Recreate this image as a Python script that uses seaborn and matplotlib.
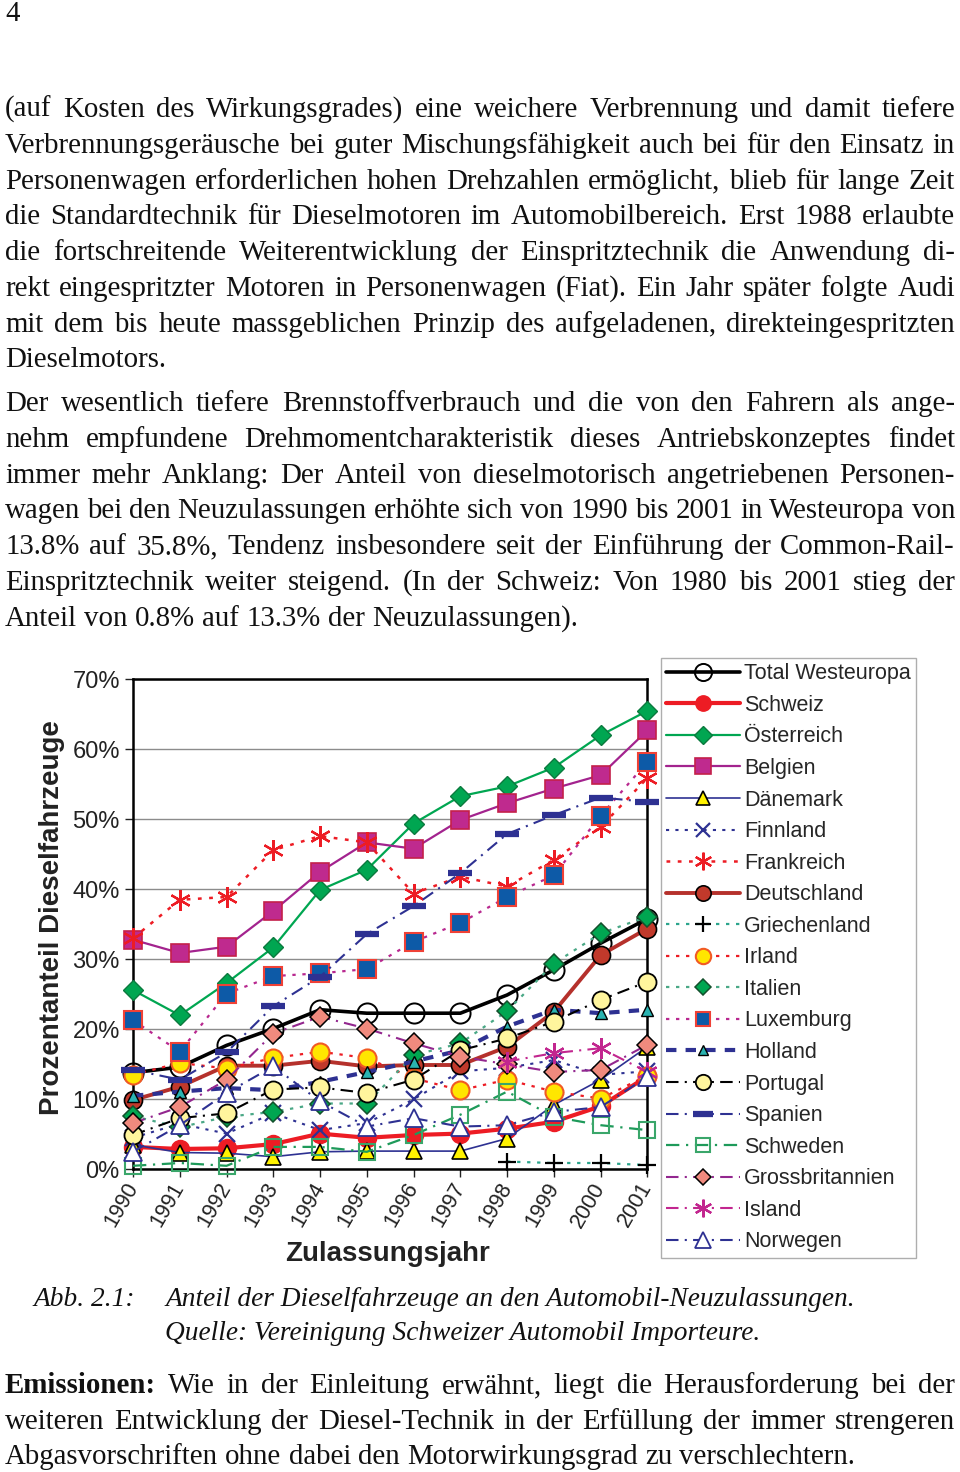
import matplotlib
matplotlib.use("Agg")
import matplotlib.pyplot as plt
import seaborn as sns
from matplotlib.ticker import MultipleLocator

# ---------------- data ----------------
years = list(range(1990, 2002))
years_late = [1998, 1999, 2000, 2001]

total_westeuropa = [13.8, 14.6, 17.7, 20.1, 22.8, 22.3, 22.3, 22.3, 24.9, 28.5, 32.3, 35.8]
schweiz = [3.2, 2.9, 3.0, 3.6, 5.1, 4.5, 4.9, 5.1, 5.8, 6.8, 9.0, 13.3]
oesterreich = [25.6, 22.0, 26.6, 31.7, 39.9, 42.8, 49.4, 53.3, 54.7, 57.4, 62.0, 65.5]
belgien = [32.8, 30.9, 31.8, 36.9, 42.5, 46.7, 45.8, 49.9, 52.3, 54.4, 56.3, 62.7]
daenemark = [3.5, 2.4, 2.3, 1.8, 2.5, 2.6, 2.6, 2.6, 4.4, 9.2, 12.8, 17.5]
finnland = [4.5, 6.5, 5.1, 8.0, 5.6, 6.6, 10.0, 14.0, 14.5, 15.6, 13.5, 14.0]
frankreich = [33.0, 38.5, 38.9, 45.6, 47.6, 46.7, 39.4, 41.8, 40.4, 44.2, 48.9, 55.9]
deutschland = [9.9, 11.8, 14.8, 14.8, 15.5, 14.7, 14.9, 14.9, 17.5, 22.5, 30.6, 34.4]
griechenland = [1.1, 0.9, 0.9, 0.6]
irland = [13.5, 15.2, 14.4, 15.9, 16.8, 15.9, 13.0, 11.3, 12.8, 11.1, 10.1, 13.4]
italien = [7.6, 6.0, 7.5, 8.2, 9.4, 9.4, 16.3, 18.0, 22.6, 29.4, 33.7, 36.1]
luxemburg = [21.3, 16.8, 25.1, 27.6, 28.0, 28.6, 32.5, 35.2, 38.9, 42.0, 50.5, 58.2]
holland = [10.5, 11.1, 11.6, 11.3, 12.5, 13.9, 15.4, 17.0, 20.4, 22.8, 22.3, 22.8]
portugal = [4.9, 7.3, 8.0, 11.4, 11.7, 10.9, 12.8, 17.0, 18.7, 21.1, 24.2, 26.8]
spanien = [14.2, 12.8, 16.7, 23.3, 27.5, 33.6, 37.6, 42.3, 47.9, 50.6, 53.1, 52.5]
schweden = [0.5, 0.9, 0.5, 3.2, 3.2, 2.5, 4.9, 7.8, 11.1, 7.5, 6.3, 5.6]
grossbritannien = [6.6, 8.9, 12.8, 19.4, 21.8, 20.1, 18.0, 16.1, 15.0, 13.9, 14.2, 17.8]
island = [15.4, 16.6, 17.3, 13.9]
norwegen = [2.5, 6.3, 10.9, 14.7, 9.7, 6.1, 7.3, 6.1, 6.3, 8.2, 8.9, 13.2]

y_ticks = [0, 10, 20, 30, 40, 50, 60, 70]
y_ticklabels = ["0%", "10%", "20%", "30%", "40%", "50%", "60%", "70%"]

# ---------------- page text ----------------
para1 = [
    "(auf Kosten des Wirkungsgrades) eine weichere Verbrennung und damit tiefere",
    "Verbrennungsgeräusche bei guter Mischungsfähigkeit auch bei für den Einsatz in",
    "Personenwagen erforderlichen hohen Drehzahlen ermöglicht, blieb für lange Zeit",
    "die Standardtechnik für Dieselmotoren im Automobilbereich. Erst 1988 erlaubte",
    "die fortschreitende Weiterentwicklung der Einspritztechnik die Anwendung di-",
    "rekt eingespritzter Motoren in Personenwagen (Fiat). Ein Jahr später folgte Audi",
    "mit dem bis heute massgeblichen Prinzip des aufgeladenen, direkteingespritzten",
    "Dieselmotors.",
]
para2 = [
    "Der wesentlich tiefere Brennstoffverbrauch und die von den Fahrern als ange-",
    "nehm empfundene Drehmomentcharakteristik dieses Antriebskonzeptes findet",
    "immer mehr Anklang: Der Anteil von dieselmotorisch angetriebenen Personen-",
    "wagen bei den Neuzulassungen erhöhte sich von 1990 bis 2001 in Westeuropa von",
    "13.8% auf 35.8%, Tendenz insbesondere seit der Einführung der Common-Rail-",
    "Einspritztechnik weiter steigend. (In der Schweiz: Von 1980 bis 2001 stieg der",
    "Anteil von 0.8% auf 13.3% der Neuzulassungen).",
]
para3 = [
    "Emissionen: Wie in der Einleitung erwähnt, liegt die Herausforderung bei der",
    "weiteren Entwicklung der Diesel-Technik in der Erfüllung der immer strengeren",
    "Abgasvorschriften ohne dabei den Motorwirkungsgrad zu verschlechtern.",
]

# ---------------- style ----------------
sns.set_style("white")
SANS = "Liberation Sans"
SERIF = "Liberation Serif"
plt.rcParams["font.family"] = [SANS, "DejaVu Sans"]

W, H = 960, 1472
fig = plt.figure(figsize=(W / 100, H / 100), dpi=100)
renderer = fig.canvas.get_renderer()
BODY = 20.8
CAPT = 19.7


def put_line(text, y, x0=5, x1=955, justify=True, size=BODY, style="normal", bold_first=False):
    words = text.split(" ")
    items = []
    for i, w in enumerate(words):
        weight = "bold" if (bold_first and i == 0) else "normal"
        items.append(fig.text(0, 1 - y / H, w, fontsize=size, family=SERIF,
                              style=style, weight=weight, va="baseline", ha="left",
                              color="#111111"))
    widths = [t.get_window_extent(renderer).width for t in items]
    if justify and len(items) > 1:
        gap = (x1 - x0 - sum(widths)) / (len(items) - 1)
    else:
        gap = size * 100 / 72 * 0.25
    x = x0
    for t, w in zip(items, widths):
        t.set_x(x / W)
        x += w + gap


fig.text(5 / W, 1 - 21 / H, "4", fontsize=BODY, family=SERIF, va="baseline", color="#111111")

base = 9
for i, (line, yc) in enumerate(zip(para1, [108, 144, 180, 215, 251, 287, 323, 358])):
    put_line(line, yc + base, justify=i < len(para1) - 1)
for i, (line, yc) in enumerate(zip(para2, [402, 438, 474, 509, 545, 581, 617])):
    put_line(line, yc + base, justify=i < len(para2) - 1)
for i, (line, yc) in enumerate(zip(para3, [1384, 1420, 1455])):
    put_line(line, yc + base, justify=i < len(para3) - 1, bold_first=(i == 0))

fig.text(33 / W, 1 - (1297 + base) / H, "Abb. 2.1:", fontsize=CAPT, family=SERIF,
         style="italic", va="baseline", color="#111111")
fig.text(165 / W, 1 - (1297 + base) / H,
         "Anteil der Dieselfahrzeuge an den Automobil-Neuzulassungen.",
         fontsize=CAPT, family=SERIF, style="italic", va="baseline", color="#111111")
fig.text(165 / W, 1 - (1331 + base) / H,
         "Quelle: Vereinigung Schweizer Automobil Importeure.",
         fontsize=CAPT, family=SERIF, style="italic", va="baseline", color="#111111")

# ---------------- chart ----------------
ax = fig.add_axes([133 / W, 1 - 1169.3 / H, 514.4 / W, 490 / H])

NAVY = "#2e3192"
ASTER = (6, 2, 0)

series = [
    ("Total Westeuropa", years, total_westeuropa,
     dict(color="black", lw=2.6, linestyle="-", marker="o", markersize=14.5,
          markerfacecolor="none", markeredgecolor="black", markeredgewidth=1.4)),
    ("Schweiz", years, schweiz,
     dict(color="#ed1c24", lw=3.0, linestyle="-", marker="o", markersize=13,
          markerfacecolor="#ed1c24", markeredgecolor="#ed1c24", markeredgewidth=1)),
    ("Österreich", years, oesterreich,
     dict(color="#00a651", lw=1.6, linestyle="-", marker="D", markersize=10.5,
          markerfacecolor="#00a651", markeredgecolor="#0b7a3e", markeredgewidth=1)),
    ("Belgien", years, belgien,
     dict(color="#a3238e", lw=1.6, linestyle="-", marker="s", markersize=13,
          markerfacecolor="#bf2a8e", markeredgecolor="#c4204a", markeredgewidth=1.2)),
    ("Dänemark", years, daenemark,
     dict(color=NAVY, lw=1.2, linestyle="-", marker="^", markersize=12,
          markerfacecolor="#fff200", markeredgecolor="black", markeredgewidth=1.2)),
    ("Finnland", years, finnland,
     dict(color=NAVY, lw=1.5, linestyle=(0, (1.5, 3)), marker="x", markersize=12,
          markerfacecolor=NAVY, markeredgecolor=NAVY, markeredgewidth=1.6)),
    ("Frankreich", years, frankreich,
     dict(color="#ed1c24", lw=1.8, linestyle=(0, (1.5, 3)), marker=ASTER, markersize=15,
          markerfacecolor="#ed1c24", markeredgecolor="#ed1c24", markeredgewidth=1.6)),
    ("Deutschland", years, deutschland,
     dict(color="#b5312c", lw=2.8, linestyle="-", marker="o", markersize=13,
          markerfacecolor="#c1392b", markeredgecolor="black", markeredgewidth=1.2)),
    ("Griechenland", years_late, griechenland,
     dict(color="#2ca58d", lw=1.6, linestyle=(0, (1.5, 3)), marker="+", markersize=13,
          markerfacecolor="black", markeredgecolor="black", markeredgewidth=1.6)),
    ("Irland", years, irland,
     dict(color="#ed1c24", lw=1.6, linestyle=(0, (1.5, 3)), marker="o", markersize=13,
          markerfacecolor="#ffe600", markeredgecolor="#f15a24", markeredgewidth=1.5)),
    ("Italien", years, italien,
     dict(color="#4aa886", lw=1.6, linestyle=(0, (1.5, 3)), marker="D", markersize=10,
          markerfacecolor="#00a651", markeredgecolor="#14502c", markeredgewidth=1.1)),
    ("Luxemburg", years, luxemburg,
     dict(color="#b8288f", lw=1.6, linestyle=(0, (1.5, 3)), marker="s", markersize=12.5,
          markerfacecolor="#0d5aa7", markeredgecolor="#ef4136", markeredgewidth=1.5)),
    ("Holland", years, holland,
     dict(color=NAVY, lw=3.0, linestyle=(0, (2.5, 2.2)), marker="^", markersize=8,
          markerfacecolor="#2ab3b1", markeredgecolor="black", markeredgewidth=1.0)),
    ("Portugal", years, portugal,
     dict(color="black", lw=1.5, linestyle=(0, (6, 3, 1, 3)), marker="o", markersize=13,
          markerfacecolor="#fff59d", markeredgecolor="black", markeredgewidth=1.3)),
    ("Spanien", years, spanien,
     dict(color=NAVY, lw=1.5, linestyle=(0, (6, 3, 1, 3)), marker="_", markersize=17,
          markerfacecolor=NAVY, markeredgecolor=NAVY, markeredgewidth=4.5)),
    ("Schweden", years, schweden,
     dict(color="#1e9a5a", lw=1.6, linestyle=(0, (6, 3, 1, 3)), marker="s", markersize=12,
          markerfacecolor="none", markeredgecolor="#3aa66a", markeredgewidth=1.5)),
    ("Grossbritannien", years, grossbritannien,
     dict(color="#93278f", lw=1.5, linestyle=(0, (6, 3, 1, 3)), marker="D", markersize=10,
          markerfacecolor="#f08a7e", markeredgecolor="black", markeredgewidth=1.1)),
    ("Island", years_late, island,
     dict(color="#c2268f", lw=1.5, linestyle=(0, (6, 3, 1, 3)), marker=ASTER, markersize=15,
          markerfacecolor="#c2268f", markeredgecolor="#c2268f", markeredgewidth=1.6)),
    ("Norwegen", years, norwegen,
     dict(color=NAVY, lw=1.5, linestyle=(0, (6, 3, 1, 3)), marker="^", markersize=13,
          markerfacecolor="white", markeredgecolor=NAVY, markeredgewidth=1.3)),
]

for z, (name, xs, ys, kw) in enumerate(series):
    sns.lineplot(x=xs, y=ys, ax=ax, label=name, clip_on=False, zorder=3 + z, **kw)

if ax.get_legend() is not None:
    ax.get_legend().remove()

ax.set_xlim(1990, 2001)
ax.set_ylim(0, 70)
ax.set_xticks(years)
ax.set_xticklabels([str(y) for y in years], rotation=60, ha="right",
                   rotation_mode="anchor", va="center", fontsize=15.5, family=SANS)
ax.set_yticks(y_ticks)
ax.set_yticklabels(y_ticklabels, fontsize=17, family=SANS)
ax.yaxis.set_minor_locator(MultipleLocator(1))
ax.tick_params(axis="y", which="major", direction="out", length=6, width=1, pad=3.5, colors="#222222")
ax.tick_params(axis="y", which="minor", direction="out", length=3.5, width=0.8, colors="#444444")
ax.tick_params(axis="x", which="major", direction="out", length=5.5, width=1, pad=5, colors="#222222")
ax.tick_params(left=True, bottom=True)
ax.grid(axis="y", which="major", color="#8c8c8c", lw=1.0, zorder=0)
ax.set_axisbelow(True)
for s in ax.spines.values():
    s.set_linewidth(1.8)
    s.set_color("black")
ax.set_xlabel("")
ax.set_ylabel("")

fig.text(52 / W, 1 - 918 / H, "Prozentanteil Dieselfahrzeuge", rotation=90,
         ha="center", va="center", fontsize=20, weight="bold", family=SANS, color="#222222")
fig.text(388 / W, 1 - 1254 / H, "Zulassungsjahr", ha="center", va="center",
         fontsize=20, weight="bold", family=SANS, color="#222222")

handles, labels = ax.get_legend_handles_labels()
leg = fig.legend(handles, labels, loc="upper left", bbox_to_anchor=(661 / W, 1 - 658 / H),
                 borderaxespad=0, handlelength=3.4, handletextpad=0.2,
                 labelspacing=0.49, borderpad=0.25, frameon=True, fancybox=False,
                 markerscale=0.85, prop={"family": SANS, "size": 15.5})
leg.get_frame().set_edgecolor("#9a9a9a")
leg.get_frame().set_linewidth(1.0)

fig.savefig("out.png", dpi=100)
